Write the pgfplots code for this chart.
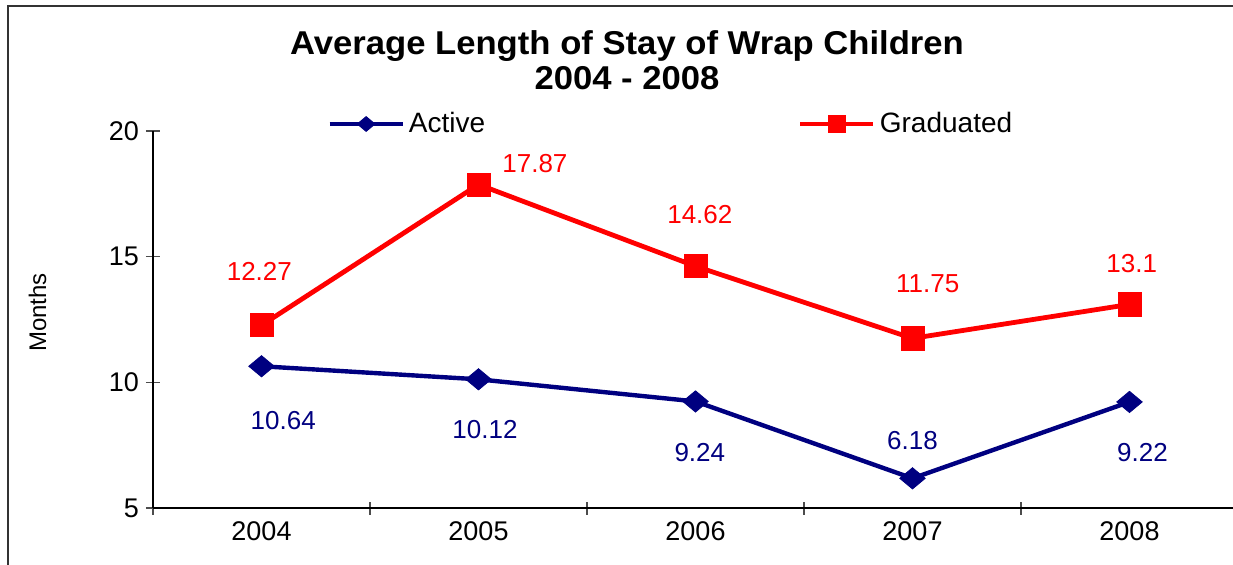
\documentclass[border=0pt]{standalone}
\usepackage{pgfplots}
\pgfplotsset{compat=1.18}
\usepackage{fontspec}
\setmainfont{Liberation Sans}
\definecolor{navyc}{RGB}{0,0,128}
\definecolor{redc}{RGB}{255,0,0}
\begin{document}
\begin{tikzpicture}[x=1pt,y=1pt]
\useasboundingbox (0,0) rectangle (616.5,282);
\fill[white] (0,0) rectangle (616.5,282);
\draw[line width=1pt, black!80] (4,-2) -- (4,279) -- (620,279);
\node[font=\fontsize{16.5}{17.5}\selectfont\bfseries, align=center] at (313.5,251.75) {\scalebox{1.05}[1]{Average Length of Stay of Wrap Children}\\\scalebox{1.05}[1]{2004 - 2008}};
\node[rotate=90, font=\fontsize{12}{14}\selectfont] at (18.75,125.75) {Months};
\begin{axis}[
  at={(76.5pt,28pt)}, anchor=south west,
  scale only axis, width=542.5pt, height=188.5pt,
  xmin=-0.5, xmax=4.5, ymin=5, ymax=20,
  axis x line=bottom, axis y line=left,
  axis line style={-, line width=0.8pt, black},
  xtick={0,1,2,3,4}, xticklabels={2004,2005,2006,2007,2008},
  major x tick style={draw=none},
  minor xtick={-0.5,0.5,1.5,2.5,3.5,4.5},
  ytick={5,10,15,20},
  tick align=center,
  major tick length=7pt, minor tick length=6.5pt,
  tick style={black!70, line width=0.6pt},
  /pgf/number format/assume math mode=true,
  ticklabel style={font=\fontsize{13.5}{15}\selectfont},
  clip=false,
  legend columns=2,
  legend style={at={(0.1604,1.0186)}, anchor=west, draw=none, fill=none, inner sep=0pt,
    font=\fontsize{14}{15}\selectfont,
    /tikz/every even column/.append style={column sep=154.5pt}},
  legend image code/.code={\draw[mark repeat=2,mark phase=2,#1,/tikz/every mark/.append style={scale=0.7}] plot coordinates {(0pt,0pt)(18.25pt,0pt)(36.5pt,0pt)};},
]
\addplot[navyc, line width=2.2pt, mark=diamond*, mark size=5.3pt,
  mark options={solid, xscale=1.6, line width=0.4pt}]
  coordinates {(0,10.64) (1,10.12) (2,9.24) (3,6.18) (4,9.22)};
\addlegendentry{Active}
\addplot[redc, line width=2.4pt, mark=square*, mark size=5.8pt,
  mark options={solid, line width=0.4pt}]
  coordinates {(0,12.27) (1,17.87) (2,14.62) (3,11.75) (4,13.1)};
\addlegendentry{Graduated}
\begin{scope}[every node/.style={font=\fontsize{13}{15}\selectfont}]
\node[redc] at (axis cs:-0.01,14.43) {12.27};
\node[redc] at (axis cs:1.26,18.72) {17.87};
\node[redc] at (axis cs:2.02,16.66) {14.62};
\node[redc] at (axis cs:3.07,13.91) {11.75};
\node[redc] at (axis cs:4.01,14.71) {13.1};
\node[navyc] at (axis cs:0.10,8.46) {10.64};
\node[navyc] at (axis cs:1.03,8.14) {10.12};
\node[navyc] at (axis cs:2.02,7.19) {9.24};
\node[navyc] at (axis cs:3.00,7.67) {6.18};
\node[navyc] at (axis cs:4.06,7.19) {9.22};
\end{scope}
\end{axis}
\end{tikzpicture}
\end{document}
